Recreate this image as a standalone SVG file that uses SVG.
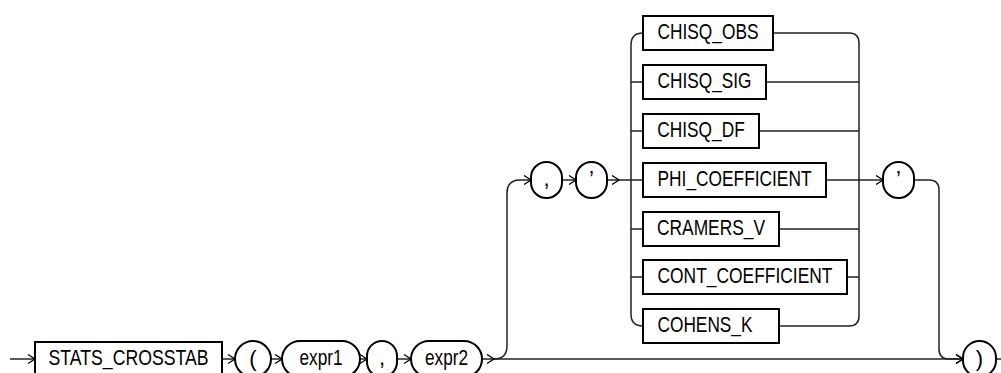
<svg xmlns="http://www.w3.org/2000/svg" width="1001" height="373" viewBox="0 0 1001 373">
<style>
.box{fill:#fff;stroke:#000;stroke-width:2}
.ln{fill:none;stroke:#222;stroke-width:1.5}
text{font-family:"Liberation Sans Narrow","Liberation Sans",Arial,sans-serif;font-size:22px;fill:#000;text-anchor:middle}
</style>
<defs>
<marker id="ah" markerUnits="userSpaceOnUse" markerWidth="12" markerHeight="12" refX="8" refY="5" orient="auto">
<path d="M1,0.5 L8,5 L1,9.5" fill="none" stroke="#000" stroke-width="1.3"/>
</marker>
</defs>
<g id="connectors">
<path class="ln" d="M10,359 L35,359" marker-end="url(#ah)"/>
<path class="ln" d="M222,359 L235,359" marker-end="url(#ah)"/>
<path class="ln" d="M271,359 L282,359" marker-end="url(#ah)"/>
<path class="ln" d="M360,359 L367,359" marker-end="url(#ah)"/>
<path class="ln" d="M397,359 L411,359" marker-end="url(#ah)"/>
<path class="ln" d="M482,359 L494,359" marker-end="url(#ah)"/>
<path class="ln" d="M494,359 L963,359" marker-end="url(#ah)"/>
<path class="ln" d="M996,359 L1001,359"/>
<path class="ln" d="M494,359 Q507,359 507,346 L507,193 Q507,180 520,180 L531,180" marker-end="url(#ah)"/>
<path class="ln" d="M562,180 L576,180" marker-end="url(#ah)"/>
<path class="ln" d="M607,180 L619,180" marker-end="url(#ah)"/>
<path class="ln" d="M619,180 L643,180"/>
<path class="ln" d="M643,33 Q631,33 631,45 L631,314 Q631,326 643,326"/>
<path class="ln" d="M631,82 L643,82 M631,131 L643,131 M631,229 L643,229 M631,277 L643,277"/>
<path class="ln" d="M773,33 L849,33 Q859,33 859,43 L859,316 Q859,326 849,326 L779,326"/>
<path class="ln" d="M766,82 L859,82 M759,131 L859,131 M779,229 L859,229 M847,277 L859,277"/>
<path class="ln" d="M826,180 L883,180" marker-end="url(#ah)"/>
<path class="ln" d="M914,180 L929,180 Q939,180 939,190 L939,349 Q939,359 949,359 L963,359" marker-end="url(#ah)"/>
</g>
<g id="n_stats"><rect class="box" x="35" y="342" width="187" height="34"/><text x="128.5" y="365" textLength="160" lengthAdjust="spacingAndGlyphs">STATS_CROSSTAB</text></g>
<g id="n_lparen"><rect class="box" x="235" y="341" width="36" height="36" rx="18"/><text x="253" y="366">(</text></g>
<g id="n_expr1"><rect class="box" x="282" y="341" width="78" height="36" rx="18"/><text x="321" y="365" textLength="43" lengthAdjust="spacingAndGlyphs">expr1</text></g>
<g id="n_comma1"><rect class="box" x="367" y="341" width="30" height="36" rx="15"/><text x="382" y="365">,</text></g>
<g id="n_expr2"><rect class="box" x="411" y="341" width="71" height="36" rx="18"/><text x="446.5" y="365" textLength="43" lengthAdjust="spacingAndGlyphs">expr2</text></g>
<g id="n_rparen"><rect class="box" x="963" y="341" width="33" height="36" rx="16.5"/><text x="979.5" y="366">)</text></g>
<g id="n_comma2"><rect class="box" x="531" y="162" width="31" height="36" rx="15.5"/><text x="546.5" y="186">,</text></g>
<g id="n_quote1"><rect class="box" x="576" y="162" width="31" height="36" rx="15.5"/><text x="591.5" y="186">’</text></g>
<g id="n_quote2"><rect class="box" x="883" y="162" width="31" height="36" rx="15.5"/><text x="898.5" y="186">’</text></g>
<g id="n_chisq_obs"><rect class="box" x="643" y="16" width="130" height="34"/><text x="708" y="39" textLength="101" lengthAdjust="spacingAndGlyphs">CHISQ_OBS</text></g>
<g id="n_chisq_sig"><rect class="box" x="643" y="65" width="123" height="34"/><text x="704.5" y="88" textLength="94" lengthAdjust="spacingAndGlyphs">CHISQ_SIG</text></g>
<g id="n_chisq_df"><rect class="box" x="643" y="114" width="116" height="34"/><text x="701" y="137" textLength="87.5" lengthAdjust="spacingAndGlyphs">CHISQ_DF</text></g>
<g id="n_phi"><rect class="box" x="643" y="163" width="183" height="34"/><text x="734.5" y="186" textLength="154" lengthAdjust="spacingAndGlyphs">PHI_COEFFICIENT</text></g>
<g id="n_cramers"><rect class="box" x="643" y="212" width="136" height="34"/><text x="711" y="235" textLength="108" lengthAdjust="spacingAndGlyphs">CRAMERS_V</text></g>
<g id="n_cont"><rect class="box" x="643" y="260" width="204" height="34"/><text x="745" y="283" textLength="175" lengthAdjust="spacingAndGlyphs">CONT_COEFFICIENT</text></g>
<g id="n_cohens"><rect class="box" x="643" y="309" width="136" height="34"/><text x="705" y="332" textLength="95" lengthAdjust="spacingAndGlyphs">COHENS_K</text></g>
</svg>
